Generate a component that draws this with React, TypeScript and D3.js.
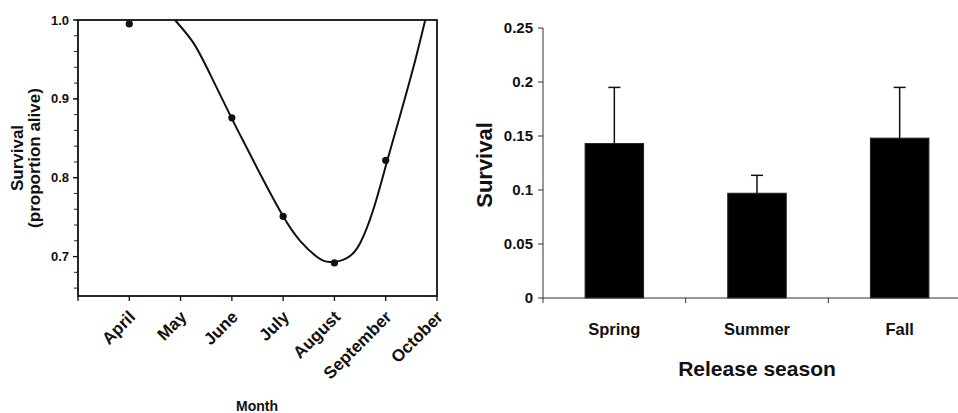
import React from "react";
import * as d3 from "d3";

const months = ["April", "May", "June", "July", "August", "September", "October"];
const monthIdx = [1, 2, 3, 4, 5, 6, 7];
const obsIdx = [1, 3, 4, 5, 6];
const obsSurvival = [0.995, 0.876, 0.751, 0.692, 0.822];
const fitIdx = [1.89, 2.25, 2.57, 3.0, 3.29, 3.55, 4.0, 4.33, 4.65, 4.91, 5.24, 5.5, 5.76, 6.01, 6.28, 6.54, 6.77];
const fitSurvival = [1.0, 0.971, 0.932, 0.875, 0.838, 0.805, 0.751, 0.72, 0.7, 0.693, 0.698, 0.717, 0.76, 0.817, 0.879, 0.94, 1.0];
const leftYTicks = [0.7, 0.8, 0.9, 1.0];

const seasons = ["Spring", "Summer", "Fall"];
const seasonSurvival = [0.143, 0.097, 0.148];
const seasonErr = [0.052, 0.0166, 0.047];
const rightYTicks = [0, 0.05, 0.1, 0.15, 0.2, 0.25];
const rightYLabels = ["0", "0.05", "0.1", "0.15", "0.2", "0.25"];

const FONT = "'Liberation Sans', Arial, sans-serif";

export default function App() {
  // Left panel
  const xL = d3.scaleLinear().domain([0, 7]).range([78, 437]);
  const yL = d3.scaleLinear().domain([0.65, 1.0]).range([296, 20]);
  const minor = d3.range(0.66, 1.0001, 0.02);
  const line = d3
    .line<number>()
    .x((_, i) => xL(fitIdx[i]))
    .y((d) => yL(d))
    .curve(d3.curveNatural);

  // Right panel
  const xR = d3.scaleBand<string>().domain(seasons).range([543, 971]).padding(0);
  const yR = d3.scaleLinear().domain([0, 0.25]).range([298, 28]);
  const bw = xR.bandwidth() * 0.41;

  return (
    <svg width={958} height={413} style={{ position: "absolute", left: 0, top: 0, background: "#fff" }} fontFamily={FONT}>
      <rect width={958} height={413} fill="#fff" />
      {/* LEFT */}
      <g>
        {minor.map((v, i) => (
          <line key={"m" + i} x1={74} x2={78} y1={yL(v)} y2={yL(v)} stroke="#222" strokeWidth={1} />
        ))}
        {leftYTicks.map((v) => (
          <g key={"yt" + v}>
            <line x1={73} x2={78} y1={yL(v)} y2={yL(v)} stroke="#111" strokeWidth={1.3} />
            <text x={69} y={yL(v)} dy="0.35em" textAnchor="end" fontSize={13} fontWeight="bold" fill="#111">
              {v.toFixed(1)}
            </text>
          </g>
        ))}
        {[0, ...monthIdx].map((m) => (
          <line key={"xt" + m} x1={xL(m)} x2={xL(m)} y1={296} y2={301} stroke="#111" strokeWidth={1.3} />
        ))}
        {monthIdx.map((m, i) => (
          <text
            key={"xl" + m}
            transform={`translate(${xL(m) + 7},${318}) rotate(-45)`}
            textAnchor="end"
            fontSize={17}
            fontWeight="bold"
            fill="#111"
          >
            {months[i]}
          </text>
        ))}
        <rect x={78} y={20} width={437 - 78} height={296 - 20} fill="none" stroke="#111" strokeWidth={1.8} />
        <path d={line(fitSurvival) || ""} fill="none" stroke="#111" strokeWidth={2} />
        {obsSurvival.map((v, i) => (
          <circle key={"p" + i} cx={xL(obsIdx[i])} cy={yL(v)} r={3.6} fill="#111" />
        ))}
        <text transform={`translate(23,158) rotate(-90)`} textAnchor="middle" fontSize={17} fontWeight="bold" fill="#111">
          Survival
        </text>
        <text transform={`translate(40,158) rotate(-90)`} textAnchor="middle" fontSize={17} fontWeight="bold" fill="#111">
          (proportion alive)
        </text>
        <text x={257} y={411} textAnchor="middle" fontSize={14} fontWeight="bold" fill="#111">
          Month
        </text>
      </g>

      {/* RIGHT */}
      <g>
        {seasons.map((s, i) => {
          const cx = xR(s)! + xR.bandwidth() / 2;
          const top = yR(seasonSurvival[i]);
          const errTop = yR(seasonSurvival[i] + seasonErr[i]);
          return (
            <g key={s}>
              <line x1={cx} x2={cx} y1={top} y2={errTop} stroke="#111" strokeWidth={1.5} />
              <line x1={cx - 6} x2={cx + 6} y1={errTop} y2={errTop} stroke="#111" strokeWidth={1.5} />
              <rect x={cx - bw / 2} y={top} width={bw} height={yR(0) - top} fill="#000" stroke="#222" strokeWidth={1} />
              <text x={cx} y={335} textAnchor="middle" fontSize={16.5} fontWeight="bold" fill="#111">
                {s}
              </text>
            </g>
          );
        })}
        <line x1={543} x2={543} y1={yR(0.25)} y2={yR(0)} stroke="#333" strokeWidth={1} />
        <line x1={543} x2={971} y1={yR(0)} y2={yR(0)} stroke="#333" strokeWidth={1.2} />
        {rightYTicks.map((v, i) => (
          <g key={"ry" + i}>
            <line x1={538} x2={543} y1={yR(v)} y2={yR(v)} stroke="#333" strokeWidth={1} />
            <text x={533} y={yR(v)} dy="0.35em" textAnchor="end" fontSize={15} fontWeight="bold" fill="#111">
              {rightYLabels[i]}
            </text>
          </g>
        ))}
        {[543, xR("Summer")!, xR("Fall")!].map((x, i) => (
          <line key={"rt" + i} x1={x} x2={x} y1={yR(0)} y2={yR(0) + 5} stroke="#333" strokeWidth={1} />
        ))}
        <text transform={`translate(492,165) rotate(-90)`} textAnchor="middle" fontSize={22} fontWeight="bold" fill="#111">
          Survival
        </text>
        <text x={757} y={376} textAnchor="middle" fontSize={21} fontWeight="bold" fill="#111">
          Release season
        </text>
      </g>
    </svg>
  );
}
